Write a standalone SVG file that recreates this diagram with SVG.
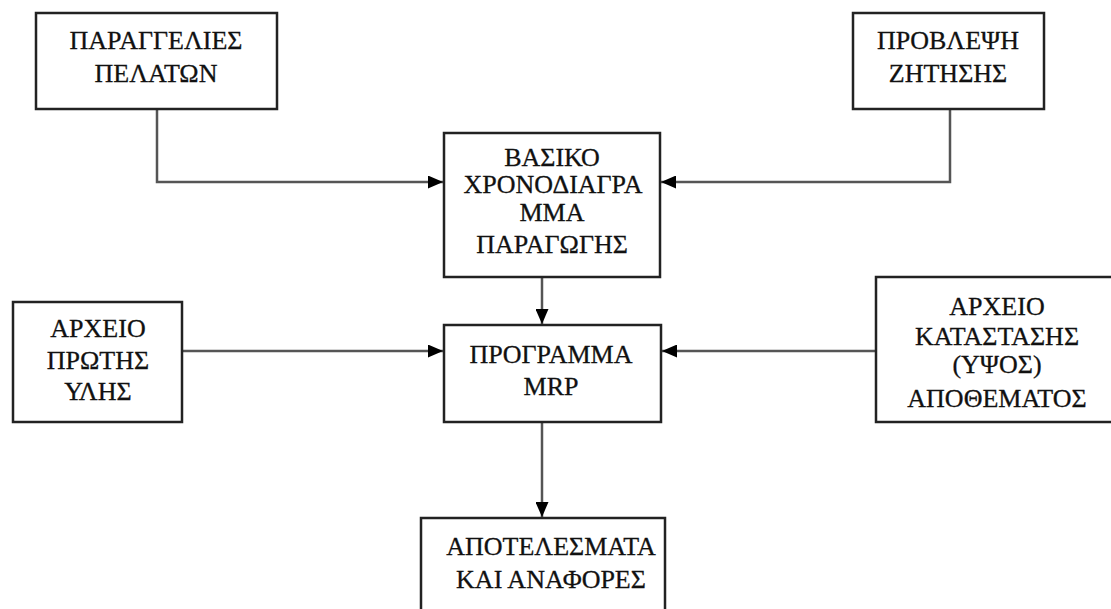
<svg xmlns="http://www.w3.org/2000/svg" width="1111" height="609" viewBox="0 0 1111 609">
<style>
.box{fill:#fff;stroke:#222;stroke-width:2.5}
.t{font-family:"Liberation Serif","Times New Roman",serif;font-size:26px;fill:#111;stroke:#111;stroke-width:0.3;text-anchor:middle}
.c{fill:none;stroke:#555;stroke-width:2.5}
</style>
<defs>
<marker id="ah" viewBox="0 0 15 13" refX="15" refY="6.5" markerWidth="15" markerHeight="13" markerUnits="userSpaceOnUse" orient="auto">
<path d="M0,0 L15,6.5 L0,13 Z" fill="#000"/>
</marker>
</defs>
<rect width="1111" height="609" fill="#fff"/>
<g id="connectors">
<path class="c" d="M157,109 V182 H443" marker-end="url(#ah)"/>
<path class="c" d="M950,109 V182 H661" marker-end="url(#ah)"/>
<path class="c" d="M542,277 V324" marker-end="url(#ah)"/>
<path class="c" d="M182,351 H443" marker-end="url(#ah)"/>
<path class="c" d="M876,351 H662" marker-end="url(#ah)"/>
<path class="c" d="M542,422 V517" marker-end="url(#ah)"/>
</g>
<g id="n1">
<rect class="box" x="36" y="13" width="241" height="96"/>
<text class="t" x="156" y="49">ΠΑΡΑΓΓΕΛΙΕΣ</text>
<text class="t" x="156" y="82">ΠΕΛΑΤΩΝ</text>
</g>
<g id="n2">
<rect class="box" x="853" y="13" width="191" height="96"/>
<text class="t" x="948" y="49">ΠΡΟΒΛΕΨΗ</text>
<text class="t" x="948" y="82">ΖΗΤΗΣΗΣ</text>
</g>
<g id="n3">
<rect class="box" x="444" y="133" width="216" height="144"/>
<text class="t" x="552" y="166">ΒΑΣΙΚΟ</text>
<text class="t" x="553" y="193">ΧΡΟΝΟΔΙΑΓΡΑ</text>
<text class="t" x="552" y="221">ΜΜΑ</text>
<text class="t" x="552" y="253">ΠΑΡΑΓΩΓΗΣ</text>
</g>
<g id="n4">
<rect class="box" x="13" y="302" width="169" height="120"/>
<text class="t" x="98" y="337">ΑΡΧΕΙΟ</text>
<text class="t" x="98" y="369">ΠΡΩΤΗΣ</text>
<text class="t" x="98" y="400">ΥΛΗΣ</text>
</g>
<g id="n5">
<rect class="box" x="876" y="277" width="242" height="145"/>
<text class="t" x="997" y="315">ΑΡΧΕΙΟ</text>
<text class="t" x="997" y="345">ΚΑΤΑΣΤΑΣΗΣ</text>
<text class="t" x="997" y="373">(ΥΨΟΣ)</text>
<text class="t" x="997" y="407">ΑΠΟΘΕΜΑΤΟΣ</text>
</g>
<g id="n6">
<rect class="box" x="444" y="325" width="217" height="97"/>
<text class="t" x="551" y="363">ΠΡΟΓΡΑΜΜΑ</text>
<text class="t" x="551" y="395">MRP</text>
</g>
<g id="n7">
<rect class="box" x="421" y="518" width="244" height="100"/>
<text class="t" x="551" y="555">ΑΠΟΤΕΛΕΣΜΑΤΑ</text>
<text class="t" x="551" y="588">ΚΑΙ ΑΝΑΦΟΡΕΣ</text>
</g>
</svg>
